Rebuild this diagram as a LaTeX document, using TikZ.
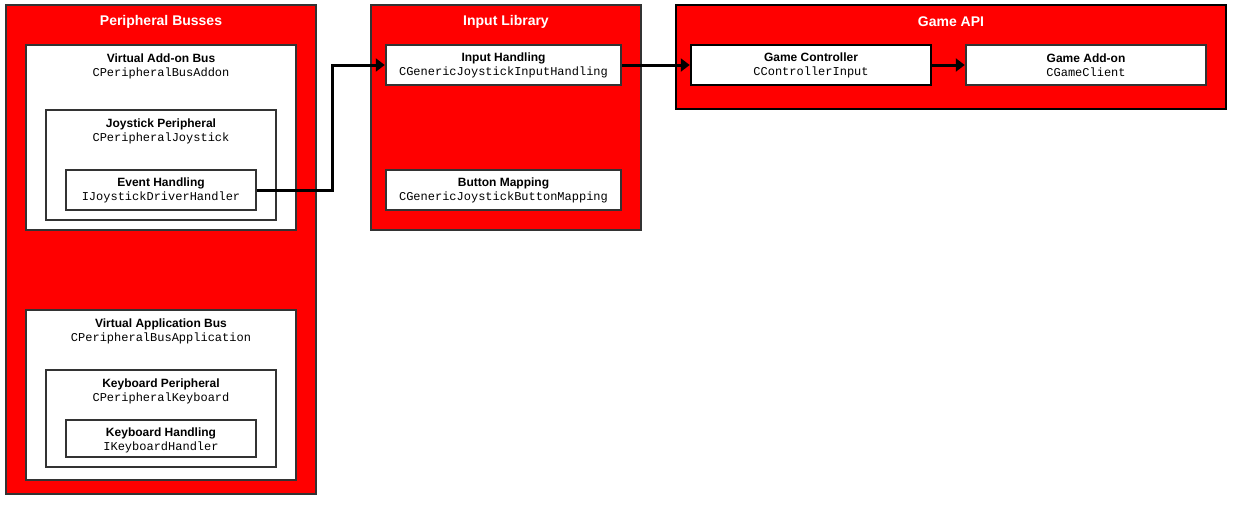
\documentclass[tikz,border=0pt]{standalone}
\usepackage{fontspec}
\setmainfont{Liberation Sans}
\setmonofont{Liberation Mono}
\usetikzlibrary{arrows.meta}
\definecolor{boxred}{HTML}{FF0000}
\definecolor{edgegray}{HTML}{333333}
\tikzset{
  container/.style={draw=edgegray, line width=2.5pt, fill=boxred, inner sep=0pt},
  whitebox/.style={draw=edgegray, line width=2.5pt, fill=white, inner sep=0pt},
  ctitle/.style={text=white, font=\fontsize{14}{16}\selectfont\bfseries, inner sep=0pt},
  blabel/.style={align=center, font=\fontsize{12}{14}\selectfont, inner sep=0pt},
  conn/.style={line width=3pt, draw=black, -{Triangle[length=9pt,width=13pt]}}
}
\newcommand{\lbl}[2]{\textbf{#1}\\\texttt{#2}}
\begin{document}
\begin{tikzpicture}[x=1pt,y=-1pt]
\useasboundingbox (0,0) rectangle (1233,506);
% Peripheral Busses
\node[container, minimum width=310pt, minimum height=489pt] (pb) at (161,249.5) {};
\node[ctitle] (pbt) at (161,21.5) {Peripheral Busses};
\node[whitebox, minimum width=270pt, minimum height=185pt] (vab) at (161,137.5) {};
\node[blabel] (vabt) at (161,66) {\lbl{Virtual Add-on Bus}{CPeripheralBusAddon}};
\node[whitebox, minimum width=230pt, minimum height=110pt] (jp) at (161,165) {};
\node[blabel] (jpt) at (161,131.5) {\lbl{Joystick Peripheral}{CPeripheralJoystick}};
\node[whitebox, minimum width=190pt, minimum height=40pt] (eh) at (161,190) {};
\node[blabel] (eht) at (161,190.5) {\lbl{Event Handling}{IJoystickDriverHandler}};
\node[whitebox, minimum width=270pt, minimum height=170pt] (vapb) at (161,395) {};
\node[blabel] (vapbt) at (161,331) {\lbl{Virtual Application Bus}{CPeripheralBusApplication}};
\node[whitebox, minimum width=230pt, minimum height=97pt] (kp) at (161,418.5) {};
\node[blabel] (kpt) at (161,391) {\lbl{Keyboard Peripheral}{CPeripheralKeyboard}};
\node[whitebox, minimum width=190pt, minimum height=37pt] (kh) at (161,438.5) {};
\node[blabel] (kht) at (161,440) {\lbl{Keyboard Handling}{IKeyboardHandler}};
% Input Library
\node[container, minimum width=270pt, minimum height=225pt] (il) at (506,117.5) {};
\node[ctitle] (ilt) at (506,21.5) {Input Library};
\node[whitebox, minimum width=235pt, minimum height=40pt] (ih) at (503.5,65) {};
\node[blabel] (iht) at (503.5,65.5) {\lbl{Input Handling}{CGenericJoystickInputHandling}};
\node[whitebox, minimum width=235pt, minimum height=40pt] (bm) at (503.5,190) {};
\node[blabel] (bmt) at (503.5,190.5) {\lbl{Button Mapping}{CGenericJoystickButtonMapping}};
% Game API
\node[container, draw=black, minimum width=550pt, minimum height=104pt] (ga) at (951,57) {};
\node[ctitle] (gat) at (951,21.5) {Game API};
\node[whitebox, draw=black, minimum width=240pt, minimum height=40pt] (gc) at (811,65) {};
\node[blabel] (gct) at (811,65.5) {\lbl{Game Controller}{CControllerInput}};
\node[whitebox, minimum width=240pt, minimum height=40pt] (gao) at (1086,65) {};
\node[blabel] (gaot) at (1086,65.5) {\lbl{Game Add-on}{CGameClient}};
% connectors
\coordinate (bend) at (332,190);
\draw[conn] (eh.east) -- (bend) |- (ih.west);
\draw[conn] (ih.east) -- (gc.west);
\draw[conn] (gc.east) -- (gao.west);
\end{tikzpicture}
\end{document}
